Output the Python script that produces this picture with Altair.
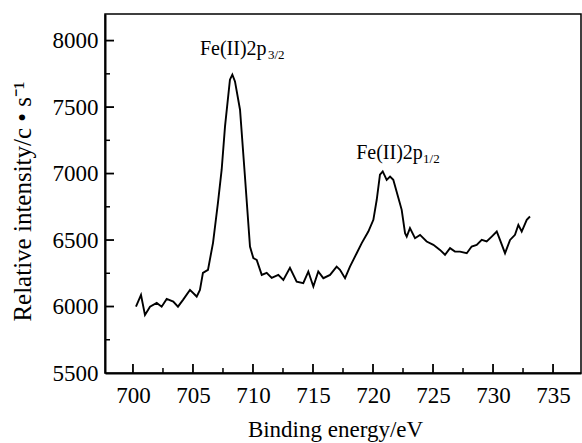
import altair as alt
import pandas as pd

# Binding energy (eV) and relative intensity
energy = [700.25, 700.67, 701.0, 701.42, 701.98, 702.39, 702.81, 703.36, 703.75, 704.17,
          704.75, 705.31, 705.58, 705.83, 706.25, 706.67, 707.08, 707.39, 707.67, 708.08,
          708.28, 708.5, 708.92, 709.33, 709.75, 710.03, 710.31, 710.73, 711.14, 711.56,
          712.11, 712.53, 713.08, 713.64, 714.19, 714.61, 715.03, 715.44, 715.86, 716.42,
          716.97, 717.25, 717.67, 718.08, 718.64, 719.06, 719.61, 720.03, 720.31, 720.58,
          720.81, 721.14, 721.42, 721.69, 722.11, 722.39, 722.67, 722.81, 723.08, 723.5,
          723.92, 724.47, 725.03, 725.58, 726.0, 726.42, 726.83, 727.25, 727.81, 728.22,
          728.64, 729.06, 729.47, 729.89, 730.31, 730.58, 731.0, 731.42, 731.83, 732.11,
          732.39, 732.81, 733.08]
intensity = [5999, 6087, 5937, 5999, 6027, 5999, 6057, 6037, 5999, 6050,
             6125, 6075, 6125, 6253, 6276, 6479, 6780, 7029, 7355, 7706,
             7744, 7693, 7480, 6978, 6451, 6364, 6351, 6238, 6253, 6215,
             6238, 6200, 6291, 6187, 6175, 6263, 6150, 6263, 6213, 6238,
             6300, 6276, 6213, 6300, 6401, 6477, 6564, 6652, 6803, 6991,
             7016, 6953, 6978, 6953, 6818, 6727, 6552, 6526, 6590, 6514,
             6539, 6489, 6464, 6426, 6389, 6439, 6413, 6413, 6401, 6451,
             6464, 6501, 6489, 6526, 6564, 6501, 6401, 6501, 6539, 6614,
             6564, 6652, 6677]

x_major = [700, 705, 710, 715, 720, 725, 730, 735]
x_minor = [702.5, 707.5, 712.5, 717.5, 722.5, 727.5, 732.5]
y_major = [6000, 6500, 7000, 7500, 8000]
y_minor = [5750, 6250, 6750, 7250, 7750]
y_labels = [5500, 6000, 6500, 7000, 7500, 8000]

label_text = ["Fe(II)2p", "Fe(II)2p"]
label_x = [705.58, 718.6]
label_y = [7892, 7109]
sub_text = ["3/2", "1/2"]
sub_x = [711.25, 724.17]
sub_y = [7862, 7079]

X_DOMAIN = [697.67, 737.33]
Y_DOMAIN = [5500, 8200]

W, H = 476, 359
FONT = "Liberation Serif"

xs = alt.Scale(domain=X_DOMAIN, nice=False, zero=False)
ys = alt.Scale(domain=Y_DOMAIN, nice=False, zero=False)

x_axis = alt.Axis(title="Binding energy/eV", values=x_major, format="d",
                  ticks=False, grid=False, labelPadding=11,
                  domainColor="black", domainWidth=2, labelFontSize=23,
                  titleFontSize=23, labelFont=FONT, titleFont=FONT,
                  labelColor="black", titleColor="black", titleFontWeight="normal",
                  titleX=230, titleY=63, titleBaseline="alphabetic", titleAlign="center")
y_axis = alt.Axis(title="Relative intensity/c • s⁻¹", values=y_labels,
                  format="d", ticks=False, grid=False, labelPadding=7,
                  domainColor="black", domainWidth=2, labelFontSize=23,
                  titleFontSize=25, labelFont=FONT, titleFont=FONT,
                  labelColor="black", titleColor="black", titleFontWeight="normal",
                  titleX=-83, titleY=187, titleAngle=270,
                  titleAlign="center", titleBaseline="middle")

df = pd.DataFrame({"be": energy, "inten": intensity})

line = alt.Chart(df).mark_line(color="black", strokeWidth=1.9).encode(
    x=alt.X("be:Q", scale=xs, axis=x_axis),
    y=alt.Y("inten:Q", scale=ys, axis=y_axis))


def x_rules(values, name, length, width):
    return alt.Chart(pd.DataFrame({name: values})).mark_rule(
        color="black", strokeWidth=width).encode(
        x=alt.X(f"{name}:Q", scale=xs, axis=None),
        y=alt.value(H), y2=alt.value(H - length))


def y_rules(values, name, length, width):
    return alt.Chart(pd.DataFrame({name: values})).mark_rule(
        color="black", strokeWidth=width).encode(
        y=alt.Y(f"{name}:Q", scale=ys, axis=None),
        x=alt.value(0), x2=alt.value(length))


labels = alt.Chart(pd.DataFrame({"lx": label_x, "ly": label_y, "t": label_text})).mark_text(
    font=FONT, fontSize=20, align="left", baseline="alphabetic", color="black").encode(
    x=alt.X("lx:Q", scale=xs, axis=None), y=alt.Y("ly:Q", scale=ys, axis=None), text="t:N")
subs = alt.Chart(pd.DataFrame({"sx": sub_x, "sy": sub_y, "t": sub_text})).mark_text(
    font=FONT, fontSize=13, align="left", baseline="alphabetic", color="black").encode(
    x=alt.X("sx:Q", scale=xs, axis=None), y=alt.Y("sy:Q", scale=ys, axis=None), text="t:N")

chart = alt.layer(
    line,
    x_rules(x_major, "xt1", 9, 1.8), x_rules(x_minor, "xt2", 5, 1.5),
    y_rules(y_major, "yt1", 9, 1.8), y_rules(y_minor, "yt2", 5, 1.5),
    labels, subs,
).resolve_axis(
    x="independent", y="independent"
).properties(
    width=W, height=H,
    background="white",
    view=alt.ViewBackground(stroke="black", strokeWidth=1.5),
    autosize=alt.AutoSizeParams(type="none"),
    padding={"left": 105, "top": 14, "right": 1, "bottom": 70},
)

chart.save("out.html", embed_options={"renderer": "svg", "actions": False})
